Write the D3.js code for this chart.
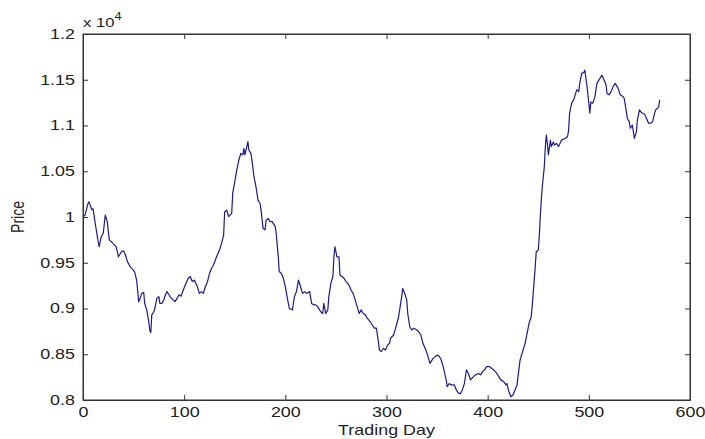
<!DOCTYPE html>
<html>
<head>
<meta charset="utf-8">
<script src="https://cdn.jsdelivr.net/npm/d3@7"></script>
<style>
  body { margin: 0; background: #fff; }
  text { font-family: "Liberation Sans", Arial, sans-serif; fill: #222; }
</style>
</head>
<body>
<script>
// trading day (x) and price (y)
var days = [0,2,5,6,8,9,10,12,15,16,18,20,22,24,26,28,31,33,35,38,40,42,44,47,49,51,53,54,55,56,58,60,61,63,65,66,67,68,70,71,73,75,76,78,80,81,83,85,86,89,91,93,95,97,99,101,104,106,108,110,112,113,115,117,119,121,123,125,127,129,132,135,137,139,140,142,144,147,148,150,152,154,156,158,159,160,162,163,164,166,167,169,171,173,175,176,178,180,181,183,185,187,190,191,193,194,196,198,200,202,203,204,207,209,211,213,215,217,219,221,224,226,228,230,232,235,237,238,240,242,243,245,247,248,249,251,253,254,256,258,260,263,265,267,269,271,273,275,277,279,281,284,286,288,290,292,293,295,297,299,301,303,304,307,309,312,313,315,316,318,320,321,323,325,327,330,332,334,336,339,341,343,346,350,352,354,356,359,360,362,364,367,369,371,373,375,377,379,381,383,386,388,391,393,395,397,399,402,404,406,409,411,413,416,418,419,421,423,425,427,429,430,432,434,436,437,439,440,441,443,444,445,446,447,448,450,451,452,453,454,456,457,458,459,460,462,463,465,466,468,470,473,477,479,480,481,483,485,486,488,490,491,493,495,496,498,500,501,502,504,506,508,511,513,515,517,518,520,522,524,526,528,529,531,534,535,536,538,540,541,543,545,547,548,550,552,555,557,559,561,563,565,566,568,569,570];
var prices = [10000,10020,10150,10165,10100,10080,10090,9935,9730,9675,9785,9820,10020,9950,9750,9730,9695,9670,9565,9620,9630,9585,9510,9450,9430,9400,9310,9200,9075,9095,9165,9175,9055,8985,8855,8765,8735,8930,8965,9000,9110,9130,9055,9055,9095,9135,9185,9150,9130,9095,9075,9110,9150,9135,9200,9255,9330,9350,9295,9310,9265,9240,9165,9185,9165,9240,9290,9380,9440,9475,9565,9640,9715,9800,10055,10075,10005,10040,10260,10385,10515,10620,10695,10680,10750,10680,10770,10825,10730,10695,10620,10440,10330,10185,10150,10075,9875,9860,9965,9985,9950,9950,9895,9820,9565,9405,9385,9330,9240,9110,9055,9000,8985,9130,9185,9310,9240,9165,9185,9165,9185,9055,9040,9040,9020,8965,8945,9055,8945,8985,9130,9275,9350,9565,9675,9565,9565,9365,9350,9330,9295,9255,9200,9165,9095,9020,8945,8985,8945,8930,8895,8855,8820,8785,8785,8635,8545,8530,8565,8545,8600,8620,8675,8710,8785,8910,8985,9130,9220,9165,9095,8945,8800,8765,8785,8765,8745,8710,8620,8545,8475,8400,8455,8490,8480,8440,8365,8220,8145,8180,8165,8165,8110,8075,8070,8110,8180,8330,8290,8220,8255,8275,8290,8275,8310,8330,8365,8365,8345,8330,8290,8255,8220,8200,8165,8180,8090,8035,8055,8110,8165,8255,8435,8510,8580,8620,8730,8785,8840,8910,9020,9165,9310,9455,9620,9640,9785,10005,10185,10330,10550,10770,10895,10805,10680,10840,10770,10820,10785,10805,10770,10840,10860,10880,10950,11135,11245,11280,11315,11390,11370,11460,11570,11580,11605,11445,11245,11135,11255,11245,11315,11460,11515,11550,11500,11445,11350,11335,11370,11425,11460,11425,11405,11335,11315,11295,11225,11080,11040,10970,11005,10860,10930,11060,11170,11140,11125,11080,11025,11025,11040,11135,11170,11190,11205,11280];

var xTicks = [0, 100, 200, 300, 400, 500, 600];
var yTicks = [8000, 8500, 9000, 9500, 10000, 10500, 11000, 11500, 12000];
var yTickLabels = ["0.8", "0.85", "0.9", "0.95", "1", "1.05", "1.1", "1.15", "1.2"];

var width = 705, height = 439;
var margin = {top: 34, right: 15, bottom: 39, left: 83};
var stretch = 1.28; // the picture's text is wider than normal

var svg = d3.select("body").append("svg")
    .attr("width", width)
    .attr("height", height);

svg.append("rect").attr("width", width).attr("height", height).attr("fill", "#fff");

var x = d3.scaleLinear().domain([0, 600]).range([margin.left, width - margin.right]);
var y = d3.scaleLinear().domain([8000, 12000]).range([height - margin.bottom, margin.top]);

/* the price line */
var line = d3.line()
    .x(function(d, i) { return x(days[i]); })
    .y(function(d) { return y(d); });

svg.append("path")
    .datum(prices)
    .attr("fill", "none")
    .attr("stroke", "#1b1b8a")
    .attr("stroke-width", 1.2)
    .attr("stroke-linejoin", "round")
    .attr("d", line);

/* axes, ticks pointing inward like matlab */
var xAxis = d3.axisBottom(x).tickValues(xTicks).tickSizeInner(-5).tickSizeOuter(0).tickPadding(7);
var yAxis = d3.axisLeft(y).tickValues(yTicks).tickSizeInner(-5).tickSizeOuter(0).tickPadding(6)
    .tickFormat(function(d, i) { return yTickLabels[i]; });

var gx = svg.append("g")
    .attr("transform", "translate(0," + y(8000) + ")")
    .call(xAxis);
var gy = svg.append("g")
    .attr("transform", "translate(" + x(0) + ",0)")
    .call(yAxis);

// mirrored ticks on top and right
svg.append("g")
    .attr("transform", "translate(0," + y(12000) + ")")
    .call(d3.axisTop(x).tickValues(xTicks).tickSizeInner(-5).tickSizeOuter(0).tickFormat(""));
svg.append("g")
    .attr("transform", "translate(" + x(600) + ",0)")
    .call(d3.axisRight(y).tickValues(yTicks).tickSizeInner(-5).tickSizeOuter(0).tickFormat(""));

svg.selectAll(".domain").attr("stroke", "#333");
svg.selectAll(".tick line").attr("stroke", "#333");

gx.selectAll("text")
    .attr("font-size", 14)
    .attr("fill", "#222")
    .attr("transform", "scale(" + stretch + ",1)");
gy.selectAll("text")
    .attr("font-size", 14)
    .attr("fill", "#222")
    .attr("x", -8 / stretch)
    .attr("transform", "scale(" + stretch + ",1)");

/* box */
svg.append("rect")
    .attr("x", x(0))
    .attr("y", y(12000))
    .attr("width", x(600) - x(0))
    .attr("height", y(8000) - y(12000))
    .attr("fill", "none")
    .attr("stroke", "#333");

/* labels */
svg.append("text")
    .attr("transform", "translate(" + ((x(0) + x(600)) / 2) + "," + (height - 4) + ") scale(" + stretch + ",1)")
    .attr("text-anchor", "middle")
    .attr("font-size", 14)
    .text("Trading Day");

svg.append("text")
    .attr("transform", "translate(24," + ((y(8000) + y(12000)) / 2) + ") rotate(-90) scale(1," + stretch + ")")
    .attr("text-anchor", "middle")
    .attr("font-size", 14)
    .text("Price");

var expo = svg.append("text")
    .attr("transform", "translate(" + x(0) + ",27) scale(" + stretch + ",1)")
    .attr("font-size", 13);
expo.append("tspan").text("x 10");
expo.append("tspan").attr("font-size", 10).attr("dy", -7).text("4");
</script>
</body>
</html>
